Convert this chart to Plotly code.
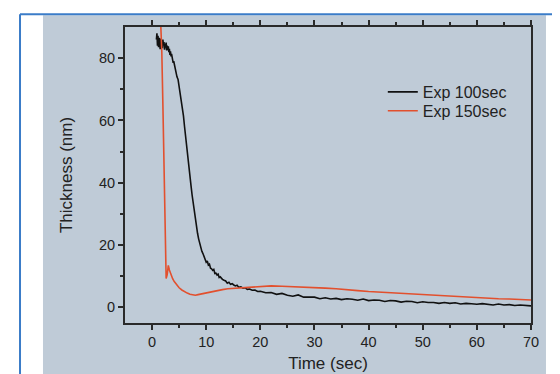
import plotly.graph_objects as go

# Exp 100sec (black)
t_black = [0.8, 0.9, 1.0, 1.1, 1.2, 1.3, 1.4, 1.5, 1.6, 1.7, 1.8, 1.9, 2.0, 2.1, 2.2, 2.3,
           2.4, 2.5, 2.6, 2.7, 2.8, 2.9, 3.0, 3.1, 3.2, 3.3, 3.4, 3.5, 3.6, 3.7, 3.8, 3.9,
           4.0, 4.2, 4.4, 4.6, 4.8, 5.0, 5.2, 5.4, 5.6, 5.8, 6.0, 6.2, 6.4, 6.6, 6.8, 7.0,
           7.2, 7.4, 7.6, 7.8, 8.0, 8.2, 8.4, 8.6, 8.8, 9.0, 9.2, 9.4, 9.6, 9.8, 10.0,
           10.2, 10.4, 10.6, 10.8, 11.0, 11.2, 11.4, 11.6, 11.8, 12.0, 12.2, 12.4, 12.6,
           12.8, 13.0, 13.3, 13.6, 13.9, 14.2, 14.5, 14.8, 15.1, 15.4, 15.7, 16.0, 16.4,
           16.8, 17.2, 17.6, 18.0, 18.5, 19.0, 19.5, 20, 21, 22, 23, 24, 25, 26, 27, 28,
           29, 30, 31, 32, 33, 34, 35, 36, 37, 38, 39, 40, 41, 42, 43, 44, 45, 46, 47, 48,
           49, 50, 51, 52, 53, 54, 55, 56, 57, 58, 59, 60, 61, 62, 63, 64, 65, 66, 67, 68,
           69, 70]
y_black = [86.0, 88.0, 84.0, 87.2, 83.5, 86.5, 84.8, 82.9, 86.3, 84.0, 85.6, 83.2, 86.0,
           84.1, 85.2, 82.7, 84.6, 83.4, 85.0, 82.5, 84.0, 82.6, 83.8, 81.9, 83.0, 81.0,
           82.2, 80.6, 81.4, 79.6, 80.2, 78.5, 79.0, 77.0, 75.8, 74.0, 73.2, 71.0, 69.0,
           66.5, 64.0, 61.5, 58.0, 54.5, 51.0, 47.5, 44.5, 41.5, 39.0, 36.0, 33.5, 30.0,
           27.5, 25.5, 23.8, 22.0, 20.5, 19.5, 18.0, 17.3, 16.2, 15.8, 14.5,
           14.9, 13.6, 13.9, 12.6, 12.4, 11.9, 12.2, 10.9, 11.0, 10.4, 10.7, 9.6, 9.8,
           9.3, 9.0, 8.7, 8.5, 7.8, 8.1, 7.4, 7.6, 7.2, 6.9, 7.1, 6.5, 6.6,
           6.2, 6.3, 5.8, 5.9, 5.5, 5.6, 5.1, 5.2, 4.7, 4.8, 4.2, 4.5, 3.9, 3.6, 4.0, 3.3,
           3.4, 3.3, 2.8, 3.1, 2.7, 2.9, 2.5, 2.8, 2.6, 2.3, 2.7, 2.2, 2.4, 2.3, 1.9, 2.2,
           2.1, 1.7, 2.0, 1.9, 1.5, 1.8, 1.6, 1.6, 1.3, 1.6, 1.3, 1.5, 1.1, 1.3, 1.2, 1.0,
           1.2, 1.0, 0.8, 1.1, 0.8, 0.9, 0.6, 0.8, 0.7, 0.5]

# Exp 150sec (red)
t_red = [1.6, 1.8, 2.0, 2.15, 2.3, 2.4, 2.5, 2.6, 2.8, 3.0, 3.2, 3.5, 3.8, 4.1, 4.5, 5.0,
         5.5, 6.0, 6.5, 7.0, 7.5, 8.0, 8.5, 9.0, 10, 11, 12, 13, 14, 15, 16, 17, 18, 19,
         20, 21, 22, 24, 26, 28, 30, 32, 34, 36, 38, 40, 42, 44, 46, 48, 50, 52, 54, 56,
         58, 60, 62, 64, 66, 68, 70]
y_red = [91, 82, 65, 50, 32, 18, 11, 9.3, 10.5, 13.5, 12.0, 10.5, 9.2, 8.3, 7.3, 6.3,
         5.6, 5.0, 4.6, 4.2, 4.0, 3.9, 4.1, 4.3, 4.6, 5.0, 5.4, 5.7, 6.0, 6.1, 6.3, 6.2,
         6.5, 6.4, 6.6, 6.8, 6.9, 6.8, 6.7, 6.5, 6.4, 6.2, 6.0, 5.8, 5.4, 5.1, 4.9, 4.7,
         4.4, 4.2, 4.0, 3.8, 3.6, 3.5, 3.3, 3.2, 3.0, 2.8, 2.7, 2.5, 2.4]

x_ticks = [0, 10, 20, 30, 40, 50, 60, 70]
y_ticks = [0, 20, 40, 60, 80]

FONT = "Liberation Sans, Arial, sans-serif"
PANEL = "#bfcbd7"
AXC = "#2a2a2a"
TXT = "#222222"

fig = go.Figure()
fig.add_trace(go.Scatter(x=t_black, y=y_black, mode="lines", name="Exp 100sec",
                         legend="legend", line=dict(color="#111111", width=1.6)))
fig.add_trace(go.Scatter(x=t_red, y=y_red, mode="lines", name="Exp 150sec",
                         legend="legend2", line=dict(color="#e2502e", width=1.6)))

leg_common = dict(xanchor="left", yanchor="top", bgcolor="rgba(0,0,0,0)",
                  font=dict(size=16, family=FONT, color=TXT), borderwidth=0)

fig.update_layout(
    width=560, height=374,
    margin=dict(l=117, r=37, t=18, b=57),
    paper_bgcolor="white", plot_bgcolor=PANEL,
    font=dict(family=FONT, color=TXT),
    showlegend=True,
    legend=dict(x=0.635, y=0.838, **leg_common),
    legend2=dict(x=0.635, y=0.774, **leg_common),
    shapes=[
        dict(type="rect", xref="paper", yref="paper", x0=-0.2020, x1=1.0369,
             y0=-0.2, y1=1.0398, fillcolor=PANEL, line=dict(width=0), layer="below"),
        dict(type="line", xref="paper", yref="paper", x0=-0.2586, x1=-0.2586,
             y0=-0.2, y1=1.0432, line=dict(color="#3b7cc8", width=2)),
        dict(type="line", xref="paper", yref="paper", x0=-0.2586, x1=1.1,
             y0=1.0432, y1=1.0432, line=dict(color="#3b7cc8", width=2)),
    ],
)

fig.update_xaxes(
    range=[-5, 70], tickvals=x_ticks, ticks="outside", ticklen=5, tickwidth=1.5,
    tickcolor=AXC, showline=True, linecolor=AXC, linewidth=1.8, mirror="allticks",
    showgrid=False, zeroline=False,
    tickfont=dict(size=14.5, family=FONT, color=TXT),
    minor=dict(tickvals=[5, 15, 25, 35, 45, 55, 65], ticks="outside", ticklen=3,
               tickwidth=1.5, tickcolor=AXC, showgrid=False),
    title=dict(text="Time (sec)", font=dict(size=17, family=FONT, color=TXT),
               standoff=8),
)
fig.update_yaxes(
    range=[-5, 90], tickvals=y_ticks, ticks="outside", ticklen=5, tickwidth=1.5,
    tickcolor=AXC, showline=True, linecolor=AXC, linewidth=1.8, mirror=True,
    showgrid=False, zeroline=False,
    tickfont=dict(size=14.5, family=FONT, color=TXT),
    minor=dict(tickvals=[10, 30, 50, 70], ticks="outside", ticklen=3,
               tickwidth=1.5, tickcolor=AXC, showgrid=False),
    title=dict(text="Thickness (nm)", font=dict(size=17, family=FONT, color=TXT),
               standoff=22),
)

fig.write_html("out.html")
